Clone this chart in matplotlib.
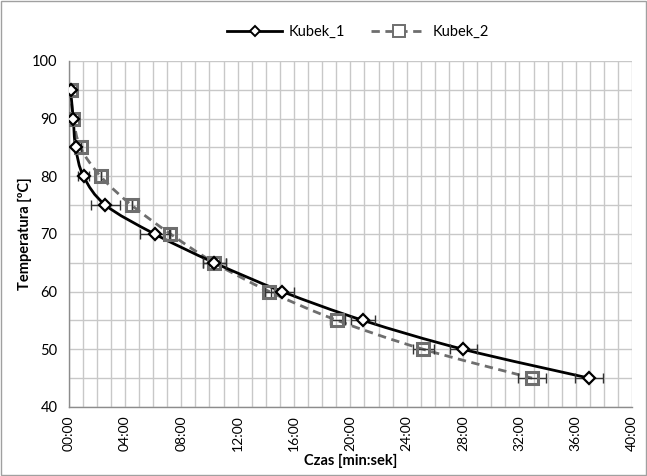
import matplotlib
matplotlib.use("Agg")
import matplotlib.pyplot as plt
import numpy as np
from matplotlib.path import Path
from matplotlib.patches import PathPatch, Rectangle
from matplotlib.ticker import MultipleLocator

plt.rcParams['font.family'] = ['Lato', 'DejaVu Sans']

# time in minutes, temperature in degC
temp = [95, 90, 85, 80, 75, 70, 65, 60, 55, 50, 45]
t1 = [0.14, 0.33, 0.5, 1.06, 2.62, 6.1, 10.35, 15.18, 20.92, 28.01, 36.95]
t2 = [0.14, 0.33, 0.85, 2.27, 4.47, 7.23, 10.35, 14.26, 19.08, 25.18, 32.9]
err1 = [0, 0, 0, 0.4, 1.0, 1.0, 0.8, 0.8, 0.85, 0.95, 1.0]
err2 = [0, 0, 0, 0, 0, 0, 0.8, 0.3, 0.55, 0.75, 1.0]
xticks = list(range(0, 41, 4))
xlabels = ["%02d:00" % m for m in xticks]


def smooth_path(x, y):
    # Excel-like smoothed line: Catmull-Rom segments as cubic Bezier
    x = np.asarray(x, float)
    y = np.asarray(y, float)
    verts = [(x[0], y[0])]
    codes = [Path.MOVETO]
    n = len(x)
    for i in range(n - 1):
        i0 = max(i - 1, 0)
        i3 = min(i + 2, n - 1)
        c1 = (x[i] + (x[i + 1] - x[i0]) / 6, y[i] + (y[i + 1] - y[i0]) / 6)
        c2 = (x[i + 1] - (x[i3] - x[i]) / 6, y[i + 1] - (y[i3] - y[i]) / 6)
        verts += [c1, c2, (x[i + 1], y[i + 1])]
        codes += [Path.CURVE4] * 3
    return Path(verts, codes)


fig = plt.figure(figsize=(6.47, 4.76), dpi=100)
ax = fig.add_axes([0.106, 0.145, 0.871, 0.727])

fig.patches.append(Rectangle((0.002, 0.002), 0.996, 0.996, transform=fig.transFigure,
                             fill=False, edgecolor='#a0a0a0', linewidth=1))

c2 = '#6e6e6e'
ax.add_patch(PathPatch(smooth_path(t2, temp), fill=False, edgecolor=c2,
                       linewidth=2, linestyle=(0, (3, 2)), zorder=3))
ax.add_patch(PathPatch(smooth_path(t1, temp), fill=False, edgecolor='black',
                       linewidth=2, zorder=4))

ax.errorbar(t1, temp, xerr=err1, fmt='none', ecolor='#333333', elinewidth=1,
            capsize=3.5, zorder=5)
ax.errorbar(t2, temp, xerr=err2, fmt='none', ecolor='#333333', elinewidth=1,
            capsize=3.5, zorder=5)

ax.plot(t2, temp, linestyle='none', marker='s', markersize=9, markerfacecolor='none',
        markeredgecolor=c2, markeredgewidth=2.2, zorder=6)
ax.plot(t1, temp, linestyle='none', marker='D', markersize=6.5, markerfacecolor='white',
        markeredgecolor='black', markeredgewidth=1.6, zorder=7)

# legend proxies
h1, = ax.plot([], [], color='black', linewidth=2, marker='D', markersize=5,
              markerfacecolor='white', markeredgecolor='black', markeredgewidth=1.4)
h2, = ax.plot([], [], color=c2, linewidth=2, linestyle=(0, (3, 2)), marker='s',
              markersize=8, markerfacecolor='white', markeredgecolor=c2,
              markeredgewidth=1.4)
fig.legend([h1, h2], ['Kubek_1', 'Kubek_2'], loc='center', bbox_to_anchor=(0.553, 0.932),
           ncol=2, frameon=False, fontsize=10.5, handlelength=3.8, columnspacing=1.8,
           handletextpad=0.4)

ax.set_xlim(0, 40)
ax.set_ylim(40, 100)
ax.set_xticks(xticks)
ax.set_xticklabels(xlabels, rotation=90, fontsize=10)
ax.xaxis.set_minor_locator(MultipleLocator(1))
ax.set_yticks(range(40, 101, 10))
ax.yaxis.set_minor_locator(MultipleLocator(5))
ax.tick_params(axis='y', labelsize=10.5, length=0, pad=8)
ax.tick_params(axis='x', length=0, pad=6)
ax.tick_params(which='minor', length=0)
ax.grid(True, which='both', color='#c8c8c8', linewidth=1)
ax.set_axisbelow(True)
for s in ['top', 'right']:
    ax.spines[s].set_visible(False)
for s in ['left', 'bottom']:
    ax.spines[s].set_color('#8c8c8c')
    ax.spines[s].set_linewidth(1)

ax.set_xlabel('Czas [min:sek]', fontsize=10.5, fontweight='bold', labelpad=2)
ax.set_ylabel('Temperatura [ºC]', fontsize=10.5, fontweight='bold', labelpad=0)

fig.savefig('out.png', dpi=100)
